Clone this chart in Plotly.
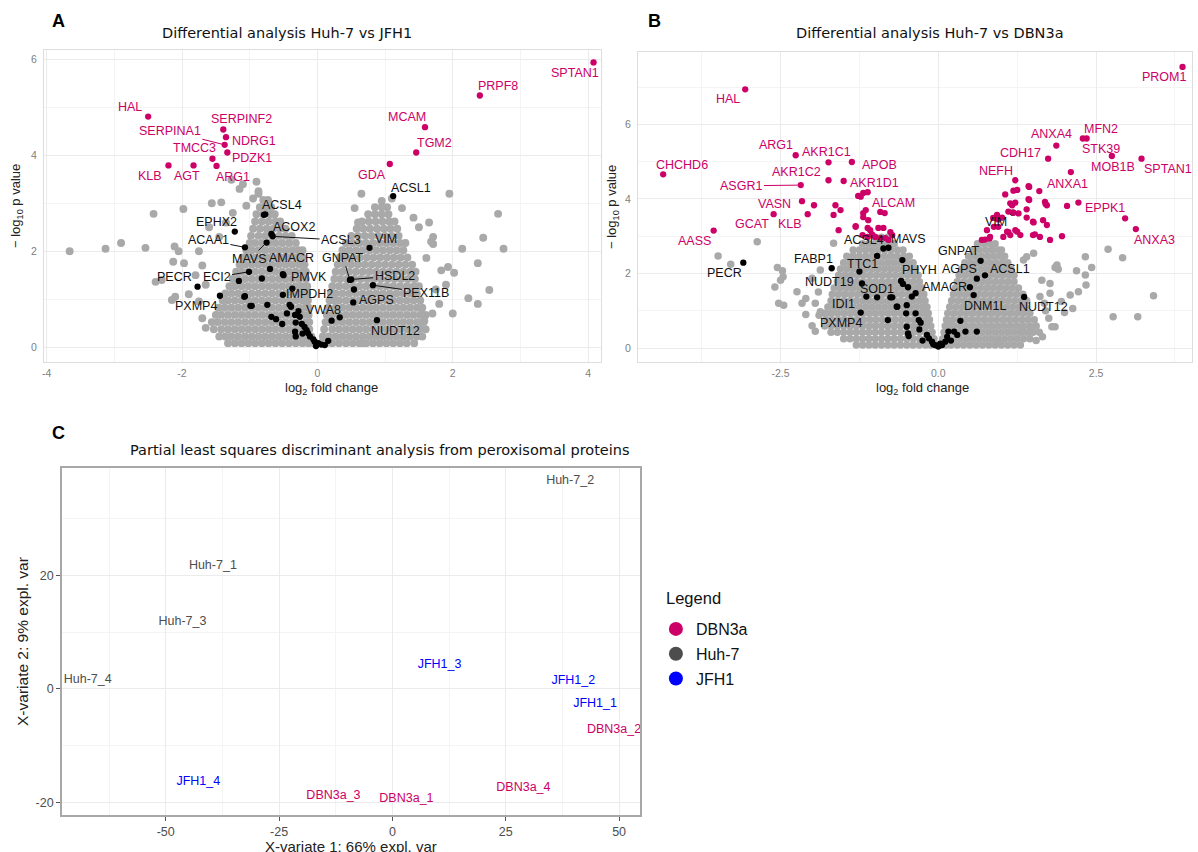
import plotly.graph_objects as go

W, H = 1198, 852
FONT = "Liberation Sans, Arial, Helvetica, sans-serif"
TFONT = "DejaVu Sans, Liberation Sans, Arial, sans-serif"
PINK = "#CC0066"
GRAY = "#A9A9A9"
BLACK = "#000000"
C_COLORS = {"DBN3a": "#CC0066", "Huh-7": "#4D4D4D", "JFH1": "#0000FF"}

# ================= Panel A : Huh-7 vs JFH1 =================
a_pink_genes = ["HAL", "SERPINF2", "NDRG1", "SERPINA1", "PDZK1", "TMCC3", "ARG1", "AGT", "KLB",
                "SPTAN1", "PRPF8", "MCAM", "TGM2", "GDA"]
a_pink_x = [-2.50, -1.39, -1.35, -1.37, -1.33, -1.55, -1.49, -1.83, -2.20, 4.08, 2.40, 1.59, 1.46, 1.07]
a_pink_y = [4.81, 4.54, 4.38, 4.22, 4.06, 3.93, 3.78, 3.79, 3.79, 5.94, 5.25, 4.59, 4.06, 3.82]

a_black_genes = ["ACSL4", "EPHX2", "ACOX2", "ACSL3", "MAVS", "ACAA1", "AMACR", "ECI2", "PECR", "PXMP4",
                 "PMVK", "IMPDH2", "VWA8", "ACSL1", "VIM", "GNPAT", "HSDL2", "PEX11B", "AGPS", "NUDT12"]
a_black_x = [-0.79, -1.22, -0.68, -0.66, -0.75, -1.07, -0.70, -1.01, -1.77, -1.44,
             -0.51, -0.37, 0.21, 1.12, 0.77, 0.48, 0.50, 0.82, 0.53, 0.88]
a_black_y = [2.76, 2.41, 2.36, 2.31, 2.18, 2.08, 1.63, 1.57, 1.26, 1.07,
             1.52, 1.22, 0.55, 3.15, 2.07, 1.40, 1.41, 1.29, 0.93, 0.56]

a_black_other_x = [-0.77, -1.16, -0.82, -1.07, -0.97, -0.74, -0.51, -0.50, -0.68, -0.61, -0.52, -0.41, -0.39,
                   -0.33, -0.32, -0.26, -0.23, -0.19, -0.16, -0.14, -0.11, -0.06, -0.04, 0.01, -0.33, -0.32,
                   -0.99, -1.08, 0.33, 0.54, 0.11, 0.16, 0.06, -0.02, -0.28, -0.45, -0.22]
a_black_other_y = [2.77, 1.38, 1.43, 1.06, 0.86, 0.88, 1.09, 1.50, 0.63, 0.58, 0.48, 0.88, 0.84,
                   0.67, 0.51, 0.63, 0.48, 0.42, 0.35, 0.29, 0.22, 0.16, 0.11, 0.08, 0.32, 0.22,
                   0.86, 1.05, 0.62, 1.20, 0.04, 0.13, 0.05, 0.02, 0.75, 0.70, 0.28]

# dense gray cloud, read row by row: (-log10 p, [log2 FC values])
a_gray_rows = [
    (0.08, [-1.32, -1.22, -1.12, -1.02, -0.92, -0.82, -0.72, -0.62, -0.52, -0.42, -0.32, -0.22, -0.13, -0.05,
            0.05, 0.13, 0.22, 0.32, 0.42, 0.52, 0.62, 0.72, 0.82, 0.92, 1.02, 1.12, 1.22, 1.32, 1.43]),
    (0.22, [-1.45, -1.36, -1.27, -1.17, -1.07, -0.97, -0.87, -0.77, -0.67, -0.57, -0.47, -0.37, -0.27, -0.17, -0.09,
            0.08, 0.17, 0.27, 0.37, 0.47, 0.57, 0.67, 0.77, 0.87, 0.97, 1.07, 1.17, 1.27, 1.37, 1.47, 1.55]),
    (0.37, [-1.53, -1.42, -1.32, -1.22, -1.12, -1.02, -0.92, -0.82, -0.72, -0.62, -0.52, -0.42, -0.32, -0.22, -0.12,
            0.10, 0.22, 0.32, 0.42, 0.52, 0.62, 0.72, 0.82, 0.92, 1.02, 1.12, 1.22, 1.32, 1.42, 1.52, 1.60]),
    (0.52, [-1.56, -1.47, -1.37, -1.27, -1.17, -1.07, -0.97, -0.87, -0.77, -0.67, -0.57, -0.47, -0.37, -0.27, -0.17, -0.12,
            0.12, 0.17, 0.27, 0.37, 0.47, 0.57, 0.67, 0.77, 0.87, 0.97, 1.07, 1.17, 1.27, 1.37, 1.47, 1.57]),
    (0.67, [-1.50, -1.42, -1.32, -1.22, -1.12, -1.02, -0.92, -0.82, -0.72, -0.62, -0.52, -0.42, -0.32, -0.22, -0.13,
            0.14, 0.22, 0.32, 0.42, 0.52, 0.62, 0.72, 0.82, 0.92, 1.02, 1.12, 1.22, 1.32, 1.42, 1.52, 1.60]),
    (0.82, [-1.46, -1.37, -1.27, -1.17, -1.07, -0.97, -0.87, -0.77, -0.67, -0.57, -0.47, -0.37, -0.27, -0.18, -0.13,
            0.16, 0.27, 0.37, 0.47, 0.57, 0.67, 0.77, 0.87, 0.97, 1.07, 1.17, 1.27, 1.37, 1.47, 1.55]),
    (0.97, [-1.40, -1.32, -1.22, -1.12, -1.02, -0.92, -0.82, -0.72, -0.62, -0.52, -0.42, -0.32, -0.22, -0.14,
            0.18, 0.24, 0.32, 0.42, 0.52, 0.62, 0.72, 0.82, 0.92, 1.02, 1.12, 1.22, 1.32, 1.42, 1.52]),
    (1.12, [-1.36, -1.27, -1.17, -1.07, -0.97, -0.87, -0.77, -0.67, -0.57, -0.47, -0.37, -0.27, -0.18, -0.15,
            0.20, 0.27, 0.37, 0.47, 0.57, 0.67, 0.77, 0.87, 0.97, 1.07, 1.17, 1.27, 1.37, 1.47]),
    (1.27, [-1.30, -1.22, -1.12, -1.02, -0.92, -0.82, -0.72, -0.62, -0.52, -0.42, -0.32, -0.23, -0.15,
            0.22, 0.32, 0.42, 0.52, 0.62, 0.72, 0.82, 0.92, 1.02, 1.12, 1.22, 1.32, 1.42, 1.50]),
    (1.42, [-1.25, -1.17, -1.07, -0.97, -0.87, -0.77, -0.67, -0.57, -0.47, -0.37, -0.27, -0.17,
            0.25, 0.34, 0.44, 0.54, 0.64, 0.74, 0.84, 0.94, 1.04, 1.14, 1.24, 1.34, 1.44]),
    (1.57, [-1.20, -1.12, -1.02, -0.92, -0.82, -0.72, -0.62, -0.52, -0.42, -0.32, -0.22, -0.17,
            0.27, 0.37, 0.47, 0.57, 0.67, 0.77, 0.87, 0.97, 1.07, 1.17, 1.27, 1.37, 1.45]),
    (1.72, [-1.15, -1.07, -0.97, -0.87, -0.77, -0.67, -0.57, -0.47, -0.37, -0.27, -0.19,
            0.30, 0.40, 0.50, 0.60, 0.70, 0.80, 0.90, 1.00, 1.10, 1.20, 1.30, 1.40]),
    (1.87, [-1.10, -1.02, -0.92, -0.82, -0.72, -0.62, -0.52, -0.42, -0.32, -0.22,
            0.33, 0.43, 0.53, 0.63, 0.73, 0.83, 0.93, 1.03, 1.13, 1.23, 1.33]),
    (2.02, [-1.05, -0.97, -0.87, -0.77, -0.67, -0.57, -0.47, -0.37, -0.28, -0.22,
            0.37, 0.47, 0.57, 0.67, 0.77, 0.87, 0.97, 1.07, 1.17, 1.27]),
    (2.17, [-1.00, -0.92, -0.82, -0.72, -0.62, -0.52, -0.42, -0.32,
            0.42, 0.52, 0.62, 0.72, 0.82, 0.92, 1.02, 1.12, 1.22, 1.30]),
    (2.32, [-0.98, -0.87, -0.77, -0.67, -0.57, -0.47, -0.38,
            0.50, 0.60, 0.70, 0.80, 0.90, 1.00, 1.10, 1.20]),
    (2.47, [-0.95, -0.85, -0.75, -0.65, -0.55, -0.47,
            0.58, 0.68, 0.78, 0.88, 0.98, 1.08, 1.18]),
    (2.62, [-0.92, -0.82, -0.72, -0.62, -0.55,
            0.66, 0.76, 0.86, 0.96, 1.06, 1.14]),
    (2.77, [-0.90, -0.80, -0.70, -0.63, 0.75, 0.85, 0.95, 1.05]),
    (2.92, [-0.85, -0.76, -0.68, 0.85, 0.95, 1.03]),
    (3.07, [-0.80, -0.73]),
]
a_gray_sparse_x = [-3.66, -3.13, -2.90, -2.54, -2.42, -1.98, -2.11, -2.05, -2.13, -1.97, -2.39, -2.15, -2.10,
                   -1.56, -1.42, -1.15, -1.05, -0.95, -0.87, -1.27, -1.10, -0.90, -0.87, -1.75, -1.70, -1.80,
                   -1.65, -1.90, -1.75, -2.30, -1.60, -1.45, -1.35, -1.25, -1.70, -1.65,
                   1.95, 2.67, 2.45, 2.75, 2.14, 2.37, 2.54, 2.23, 2.37, 2.02, 1.71, 1.71, 1.68, 1.61, 1.83,
                   1.93, 0.95, 1.10, 1.25, 1.42, 0.55, 0.65, 0.60, 1.50, 1.55, 1.58, 0.65, 1.75, 1.80, 1.70,
                   1.65, 1.50, 1.90, 2.00]
a_gray_sparse_y = [2.00, 2.05, 2.17, 2.07, 2.78, 2.88, 2.10, 2.00, 1.78, 1.75, 1.36, 0.98, 1.05,
                   3.00, 3.02, 3.30, 2.95, 3.10, 3.25, 3.49, 3.40, 3.45, 3.20, 2.00, 1.70, 1.50,
                   1.30, 1.10, 0.95, 1.40, 2.50, 2.30, 2.60, 2.80, 0.60, 0.40,
                   3.20, 2.78, 2.28, 2.05, 2.05, 1.75, 1.19, 1.02, 0.90, 1.55, 2.15, 2.30, 2.20, 1.86, 1.60,
                   1.67, 3.05, 3.10, 2.90, 2.70, 2.90, 3.20, 2.60, 0.50, 0.67, 0.55, 0.08, 1.20, 0.90, 0.70,
                   2.60, 2.50, 1.30, 0.70]

# label positions (log2 FC, -log10 p) and labels drawn with a segment
a_label_pos = {
    "HAL": (-2.77, 5.01), "SERPINF2": (-1.12, 4.76), "SERPINA1": (-2.18, 4.51), "NDRG1": (-0.94, 4.30),
    "TMCC3": (-1.82, 4.15), "PDZK1": (-0.96, 3.95), "KLB": (-2.48, 3.57), "AGT": (-1.93, 3.57),
    "ARG1": (-1.24, 3.55), "SPTAN1": (3.81, 5.72), "PRPF8": (2.67, 5.45), "MCAM": (1.33, 4.80),
    "TGM2": (1.73, 4.26), "GDA": (0.80, 3.59), "ACSL1": (1.39, 3.32), "ACSL4": (-0.53, 2.96),
    "EPHX2": (-1.49, 2.61), "ACOX2": (-0.35, 2.51), "ACSL3": (0.35, 2.23), "ACAA1": (-1.61, 2.23),
    "VIM": (1.02, 2.25), "MAVS": (-1.00, 1.84), "AMACR": (-0.38, 1.86), "GNPAT": (0.38, 1.86),
    "HSDL2": (1.14, 1.48), "PECR": (-2.11, 1.46), "ECI2": (-1.49, 1.46), "PMVK": (-0.13, 1.46),
    "PEX11B": (1.61, 1.13), "IMPDH2": (-0.12, 1.11), "PXMP4": (-1.79, 0.86), "AGPS": (0.87, 0.98),
    "VWA8": (0.09, 0.77), "NUDT12": (1.15, 0.33),
}
a_segments = {"SERPINA1", "ACAA1", "ECI2", "MAVS", "ACSL3", "GNPAT", "HSDL2", "PEX11B"}

# ================= Panel B : Huh-7 vs DBN3a =================
b_pink_genes = ["HAL", "ARG1", "AKR1C1", "APOB", "AKR1C2", "AKR1D1", "ASGR1", "CHCHD6", "VASN", "GCAT",
                "KLB", "AASS", "ALCAM", "PROM1", "MFN2", "STK39", "ANXA4", "CDH17", "MOB1B", "SPTAN1",
                "NEFH", "ANXA1", "EPPK1", "ANXA3"]
b_pink_x = [-3.06, -2.26, -1.74, -1.37, -1.74, -1.50, -2.18, -4.36, -2.16, -2.61,
            -2.07, -3.56, -1.19, 3.87, 2.29, 2.35, 1.87, 1.74, 2.75, 3.22,
            1.22, 2.10, 2.22, 3.13]
b_pink_y = [6.94, 5.17, 4.98, 4.99, 4.50, 4.48, 4.37, 4.66, 3.94, 3.59,
            3.59, 3.15, 4.16, 7.54, 5.62, 5.62, 5.43, 5.08, 5.15, 5.08,
            4.50, 4.72, 3.90, 3.19]
b_pink_other_x = [-1.97, -1.63, -1.55, -1.66, -1.58, -1.31, -1.27, -1.23, -1.12, -1.15, -1.19, -1.19, -0.92,
                  -0.85, -1.11, -1.12, -1.08, -0.95, -0.87, -1.20, -1.12, -1.00, -0.92, -0.84, -0.79, -0.76,
                  -0.73, -1.31, -1.05,
                  1.25, 1.19, 1.43, 1.60, 1.06, 1.43, 1.69, 1.72, 1.22, 1.40, 1.27, 2.04, 1.50, 1.66, 0.87,
                  0.95, 0.93, 1.11, 1.19, 1.09, 1.14, 1.25, 1.30, 0.74, 0.82, 0.69, 1.50, 1.61, 1.77, 1.96,
                  2.96, 1.72, 1.40, 1.51, 1.11, 1.22, 1.03, 0.77, 0.81, 0.88, 0.95, 1.01, 1.17, 1.14, 1.44,
                  1.44, 1.70, 1.53]
b_pink_other_y = [3.83, 3.83, 3.70, 3.57, 3.16, 3.27, 4.08, 4.06, 4.18, 3.70, 3.62, 3.51, 3.65,
                  3.62, 3.43, 3.22, 3.16, 3.22, 3.22, 3.03, 2.98, 2.98, 2.95, 2.95, 2.90, 3.11,
                  3.03, 3.25, 3.05,
                  4.24, 4.22, 4.34, 4.21, 4.12, 3.99, 3.92, 3.83, 3.90, 3.72, 3.61, 3.81, 3.39, 3.43, 3.49,
                  3.25, 3.57, 3.66, 3.63, 3.12, 3.03, 3.12, 3.03, 2.91, 2.98, 2.90, 3.03, 2.98, 2.90, 3.00,
                  3.48, 3.30, 3.50, 3.37, 3.11, 3.16, 2.98, 3.16, 2.94, 3.25, 3.45, 3.50, 3.83, 3.88, 4.32,
                  3.97, 3.86, 3.05]

b_black_genes = ["ACSL4", "MAVS", "FABP1", "TTC1", "NUDT19", "SOD1", "IDI1", "PXMP4", "PHYH", "PECR",
                 "GNPAT", "AGPS", "ACSL1", "AMACR", "DNM1L", "NUDT12", "VIM"]
b_black_x = [-0.87, -0.79, -1.69, -0.97, -1.21, -0.97, -1.23, -0.80, -0.57, -3.09,
             0.67, 0.61, 0.74, 0.50, 0.56, 1.36, 1.18]
b_black_y = [2.67, 2.69, 2.14, 2.47, 1.73, 1.36, 0.95, 0.75, 2.36, 2.29,
             2.34, 1.86, 1.95, 1.63, 1.42, 1.37, 3.63]
b_black_other_x = [-1.25, -1.14, -0.76, -0.59, -0.56, -0.48, -0.36, -0.42, -0.65, -0.50, -0.36, -0.51, -0.31,
                   -0.28, -0.50, -0.48, -0.47, -0.18, -0.15, -0.10, -0.05, 0.00, 0.06, 0.11, 0.14, 0.16,
                   0.25, 0.30, 0.43, 0.61, 0.35, -0.73, -0.66, -0.25, -0.30, 0.20, -0.08, 0.03]
b_black_other_y = [2.05, 1.38, 1.36, 1.80, 1.72, 1.63, 1.47, 1.38, 1.11, 1.15, 0.93, 0.93, 0.75,
                   0.68, 0.57, 0.39, 0.32, 0.35, 0.26, 0.17, 0.08, 0.04, 0.08, 0.17, 0.30, 0.44,
                   0.44, 0.35, 0.44, 0.44, 0.73, 1.36, 1.11, 0.20, 0.50, 0.20, 0.10, 0.12]

b_gray_rows = [
    (0.08, [-1.30, -1.20, -1.10, -1.00, -0.90, -0.80, -0.70, -0.60, -0.50, -0.40, -0.30, -0.20, -0.12, -0.04,
            0.04, 0.12, 0.20, 0.30, 0.40, 0.50, 0.60, 0.70, 0.80, 0.90, 1.00, 1.10, 1.20, 1.30]),
    (0.25, [-1.50, -1.40, -1.30, -1.20, -1.10, -1.00, -0.90, -0.80, -0.70, -0.60, -0.50, -0.40, -0.30, -0.20, -0.12,
            -0.07, 0.07, 0.15, 0.25, 0.35, 0.45, 0.55, 0.65, 0.75, 0.85, 0.95, 1.05, 1.15, 1.25, 1.35, 1.45]),
    (0.42, [-1.70, -1.60, -1.50, -1.40, -1.30, -1.20, -1.10, -1.00, -0.90, -0.80, -0.70, -0.60, -0.50, -0.40, -0.30,
            -0.20, -0.10, 0.09, 0.20, 0.30, 0.40, 0.50, 0.60, 0.70, 0.80, 0.90, 1.00, 1.10, 1.20, 1.30, 1.40,
            1.50, 1.60]),
    (0.59, [-1.80, -1.70, -1.60, -1.50, -1.40, -1.30, -1.20, -1.10, -1.00, -0.90, -0.80, -0.70, -0.60, -0.50, -0.40,
            -0.30, -0.20, -0.12, 0.11, 0.17, 0.25, 0.35, 0.45, 0.55, 0.65, 0.75, 0.85, 0.95, 1.05, 1.15, 1.25,
            1.35, 1.45, 1.55]),
    (0.76, [-1.78, -1.68, -1.58, -1.48, -1.38, -1.28, -1.18, -1.08, -0.98, -0.88, -0.78, -0.68, -0.58, -0.48, -0.38,
            -0.28, -0.18, -0.14, 0.13, 0.22, 0.32, 0.42, 0.52, 0.62, 0.72, 0.82, 0.92, 1.02, 1.12, 1.22, 1.32,
            1.42, 1.52]),
    (0.93, [-1.80, -1.70, -1.60, -1.50, -1.40, -1.30, -1.20, -1.10, -1.00, -0.90, -0.80, -0.70, -0.60, -0.50, -0.40,
            -0.30, -0.22, -0.16, 0.15, 0.25, 0.35, 0.45, 0.55, 0.65, 0.75, 0.85, 0.95, 1.05, 1.15, 1.25, 1.35,
            1.45]),
    (1.10, [-1.75, -1.65, -1.55, -1.45, -1.35, -1.25, -1.15, -1.05, -0.95, -0.85, -0.75, -0.65, -0.55, -0.45, -0.35,
            -0.25, -0.18, 0.18, 0.28, 0.38, 0.48, 0.58, 0.68, 0.78, 0.88, 0.98, 1.08, 1.18, 1.28, 1.38]),
    (1.27, [-1.70, -1.60, -1.50, -1.40, -1.30, -1.20, -1.10, -1.00, -0.90, -0.80, -0.70, -0.60, -0.50, -0.40, -0.30,
            -0.21, 0.21, 0.31, 0.41, 0.51, 0.61, 0.71, 0.81, 0.91, 1.01, 1.11, 1.21, 1.31, 1.40]),
    (1.44, [-1.68, -1.58, -1.48, -1.38, -1.28, -1.18, -1.08, -0.98, -0.88, -0.78, -0.68, -0.58, -0.48, -0.38, -0.28,
            -0.23, 0.24, 0.34, 0.44, 0.54, 0.64, 0.74, 0.84, 0.94, 1.04, 1.14, 1.24, 1.34]),
    (1.61, [-1.65, -1.55, -1.45, -1.35, -1.25, -1.15, -1.05, -0.95, -0.85, -0.75, -0.65, -0.55, -0.45, -0.35, -0.26,
            0.27, 0.37, 0.47, 0.57, 0.67, 0.77, 0.87, 0.97, 1.07, 1.17, 1.27]),
    (1.78, [-1.60, -1.50, -1.40, -1.30, -1.20, -1.10, -1.00, -0.90, -0.80, -0.70, -0.60, -0.50, -0.40, -0.30,
            0.30, 0.40, 0.50, 0.60, 0.70, 0.80, 0.90, 1.00, 1.10, 1.20]),
    (1.95, [-1.58, -1.48, -1.38, -1.28, -1.18, -1.08, -0.98, -0.88, -0.78, -0.68, -0.58, -0.48, -0.38, -0.32,
            0.33, 0.43, 0.53, 0.63, 0.73, 0.83, 0.93, 1.03, 1.13, 1.20]),
    (2.12, [-1.55, -1.45, -1.35, -1.25, -1.15, -1.05, -0.95, -0.85, -0.75, -0.65, -0.55, -0.45, -0.36,
            0.37, 0.47, 0.57, 0.67, 0.77, 0.87, 0.97, 1.07, 1.15]),
    (2.29, [-1.50, -1.40, -1.30, -1.20, -1.10, -1.00, -0.90, -0.80, -0.70, -0.60, -0.50, -0.40,
            0.42, 0.52, 0.62, 0.72, 0.82, 0.92, 1.02, 1.10]),
    (2.46, [-1.45, -1.35, -1.25, -1.15, -1.05, -0.95, -0.85, -0.75, -0.65, -0.55, -0.46,
            0.48, 0.58, 0.68, 0.78, 0.88, 0.98, 1.05]),
    (2.63, [-1.35, -1.25, -1.15, -1.05, -0.95, -0.85, -0.75, -0.65, -0.56,
            0.55, 0.65, 0.75, 0.85, 0.95, 1.00]),
    (2.80, [-1.20, -1.10, -1.00, -0.90, -0.80, -0.70, 0.62, 0.72, 0.82, 0.90]),
    (2.97, [-1.00, -0.90, -0.80]),
]
b_gray_sparse_x = [-2.87, -3.49, -3.29, -2.55, -2.47, -2.46, -2.50, -2.59, -2.24, -2.10, -2.16, -2.53, -2.45,
                   -1.87, -2.00, -1.66, -1.89, -1.76, -1.87, -2.00, -2.10, -1.95, -1.90, -1.95,
                   2.69, 2.92, 3.41, 2.77, 3.16, 2.33, 2.43, 2.33, 2.34, 2.19, 2.22, 2.09, 2.13, 1.88, 1.85,
                   1.90, 1.77, 1.64, 1.77, 1.61, 1.80, 1.85, 1.46, 1.32, 0.95, 1.51, 1.40, 1.35, 1.70, 1.75,
                   1.68, 1.95, 2.00, 1.65, 1.55]
b_gray_sparse_y = [2.85, 2.47, 2.25, 2.16, 2.07, 1.91, 1.82, 1.64, 1.51, 1.33, 1.20, 1.20, 1.15,
                   2.09, 1.87, 2.81, 0.88, 0.75, 0.97, 0.60, 0.90, 1.20, 1.50, 0.45,
                   2.65, 2.42, 1.40, 0.84, 0.84, 2.45, 2.16, 1.96, 1.69, 2.07, 1.51, 1.42, 1.06, 2.23, 2.16,
                   2.11, 1.73, 1.82, 1.47, 1.38, 0.57, 0.57, 0.44, 0.44, 0.14, 2.54, 2.45, 2.36, 1.00, 0.80,
                   1.20, 1.25, 0.95, 0.30, 0.20]

b_label_pos = {
    "HAL": (-3.34, 6.67), "ARG1": (-2.57, 5.44), "AKR1C1": (-1.77, 5.25), "APOB": (-0.94, 4.91),
    "CHCHD6": (-4.06, 4.91), "AKR1C2": (-2.24, 4.73), "AKR1D1": (-1.01, 4.42), "ASGR1": (-3.12, 4.35),
    "VASN": (-2.59, 3.86), "ALCAM": (-0.71, 3.90), "GCAT": (-2.96, 3.32), "KLB": (-2.35, 3.32),
    "AASS": (-3.86, 2.87), "ACSL4": (-1.18, 2.91), "MAVS": (-0.47, 2.92), "FABP1": (-1.98, 2.38),
    "PECR": (-3.39, 2.00), "TTC1": (-1.20, 2.25), "PHYH": (-0.30, 2.09), "NUDT19": (-1.72, 1.78),
    "SOD1": (-0.97, 1.58), "IDI1": (-1.51, 1.18), "PXMP4": (-1.55, 0.66), "GNPAT": (0.32, 2.60),
    "AGPS": (0.33, 2.11), "ACSL1": (1.14, 2.11), "AMACR": (0.09, 1.63), "DNM1L": (0.74, 1.13),
    "NUDT12": (1.66, 1.09), "VIM": (0.92, 3.37), "ANXA3": (3.42, 2.91), "EPPK1": (2.64, 3.75),
    "PROM1": (3.58, 7.26), "ANXA4": (1.79, 5.73), "MFN2": (2.58, 5.87), "STK39": (2.58, 5.35),
    "CDH17": (1.31, 5.22), "MOB1B": (2.77, 4.86), "SPTAN1": (3.64, 4.79), "NEFH": (0.92, 4.75),
    "ANXA1": (2.04, 4.39),
}
b_segments = {"ASGR1"}

# ================= Panel C : PLS-DA =================
c_samples = ["Huh-7_1", "Huh-7_2", "Huh-7_3", "Huh-7_4", "JFH1_1", "JFH1_2", "JFH1_3", "JFH1_4",
             "DBN3a_1", "DBN3a_2", "DBN3a_3", "DBN3a_4"]
c_group = ["Huh-7"] * 4 + ["JFH1"] * 4 + ["DBN3a"] * 4
c_variate1 = [-39.6, 39.2, -46.3, -67.2, 44.7, 39.9, 10.4, -42.8, 3.1, 48.9, -13.0, 28.9]
c_variate2 = [21.7, 36.7, 11.8, 1.6, -2.6, 1.4, 4.2, -16.4, -19.4, -7.2, -18.9, -17.4]
c_legend_order = ["DBN3a", "Huh-7", "JFH1"]


def flatten(rows):
    xs, ys = [], []
    for yv, xlist in rows:
        for xv in xlist:
            xs.append(xv)
            ys.append(yv)
    return xs, ys


def pp(px, py):
    return px / W, 1 - py / H


fig = go.Figure()


def volcano(xa, ya, rows, sx, sy, bx, by, box, boy, pkx, pky, gsize, pox=None, poy=None):
    gx, gy = flatten(rows)
    fig.add_trace(go.Scatter(x=gx + sx, y=gy + sy, mode="markers", xaxis=xa, yaxis=ya,
                             marker=dict(color=GRAY, size=gsize), showlegend=False, hoverinfo="skip"))
    fig.add_trace(go.Scatter(x=bx + box, y=by + boy, mode="markers", xaxis=xa, yaxis=ya,
                             marker=dict(color=BLACK, size=6.3), showlegend=False, hoverinfo="skip"))
    px_ = list(pkx) + (list(pox) if pox else [])
    py_ = list(pky) + (list(poy) if poy else [])
    fig.add_trace(go.Scatter(x=px_, y=py_, mode="markers", xaxis=xa, yaxis=ya,
                             marker=dict(color=PINK, size=6.3), showlegend=False, hoverinfo="skip"))


volcano("x", "y", a_gray_rows, a_gray_sparse_x, a_gray_sparse_y, a_black_x, a_black_y,
        a_black_other_x, a_black_other_y, a_pink_x, a_pink_y, 7.9)
volcano("x2", "y2", b_gray_rows, b_gray_sparse_x, b_gray_sparse_y, b_black_x, b_black_y,
        b_black_other_x, b_black_other_y, b_pink_x, b_pink_y, 7.5, b_pink_other_x, b_pink_other_y)

# Panel C text marks
for g in c_legend_order:
    idx = [i for i, gg in enumerate(c_group) if gg == g]
    fig.add_trace(go.Scatter(x=[c_variate1[i] for i in idx], y=[c_variate2[i] for i in idx],
                             text=[c_samples[i] for i in idx], mode="text", xaxis="x3", yaxis="y3",
                             textfont=dict(family=FONT, size=12.5, color=C_COLORS[g]),
                             showlegend=False, hoverinfo="skip"))
for g in c_legend_order:
    fig.add_trace(go.Scatter(x=[None], y=[None], mode="markers", name=g, xaxis="x3", yaxis="y3",
                             marker=dict(color=C_COLORS[g], size=14), legendgroup=g, showlegend=True))

ann = []


def gene_labels(genes, xs, ys, pos, segs, color, xr, yr):
    for gname, xv, yv in zip(genes, xs, ys):
        lx, ly = pos[gname]
        if gname in segs:
            ann.append(dict(x=xv, y=yv, ax=lx, ay=ly, xref=xr, yref=yr, axref=xr, ayref=yr,
                            text=gname, showarrow=True, arrowhead=0, arrowwidth=1, arrowcolor=color,
                            standoff=3, font=dict(family=FONT, size=12.5, color=color)))
        else:
            ann.append(dict(x=lx, y=ly, xref=xr, yref=yr, text=gname, showarrow=False,
                            xanchor="center", yanchor="middle",
                            font=dict(family=FONT, size=12.5, color=color)))


gene_labels(a_pink_genes, a_pink_x, a_pink_y, a_label_pos, a_segments, PINK, "x", "y")
gene_labels(a_black_genes, a_black_x, a_black_y, a_label_pos, a_segments, "#111111", "x", "y")
gene_labels(b_pink_genes, b_pink_x, b_pink_y, b_label_pos, b_segments, PINK, "x2", "y2")
gene_labels(b_black_genes, b_black_x, b_black_y, b_label_pos, b_segments, "#111111", "x2", "y2")


def paper_text(px, py, text, size, color="#000000", angle=0, bold=False, anchor="center", family=FONT):
    x, y = pp(px, py)
    ann.append(dict(x=x, y=y, xref="paper", yref="paper", text=("<b>%s</b>" % text) if bold else text,
                    showarrow=False, textangle=angle, xanchor=anchor, yanchor="middle",
                    font=dict(family=family, size=size, color=color)))


paper_text(57, 21, "A", 18, bold=True)
paper_text(654, 21, "B", 18, bold=True)
paper_text(57, 433, "C", 18, bold=True)
paper_text(285, 33, "Differential analysis Huh-7 vs JFH1", 14.5, "#111111", family=TFONT)
paper_text(930, 33, "Differential analysis Huh-7 vs DBN3a", 14.5, "#111111", family=TFONT)
paper_text(379, 450, "Partial least squares discriminant analysis from peroxisomal proteins", 14.5,
           "#111111", family=TFONT)
paper_text(330, 388, "log<sub>2</sub> fold change", 13, "#222222")
paper_text(922, 388, "log<sub>2</sub> fold change", 13, "#222222")
paper_text(14, 206, "\u2212 log<sub>10</sub> p value", 13, "#222222", angle=-90)
paper_text(611, 207, "\u2212 log<sub>10</sub> p value", 13, "#222222", angle=-90)
paper_text(350, 846, "X-variate 1: 66% expl. var", 15, "#222222")
paper_text(20, 641, "X-variate 2: 9% expl. var", 15.5, "#222222", angle=-90)
paper_text(663, 598, "Legend", 16.5, "#111111", anchor="left")

light_axis = dict(showgrid=True, gridcolor="#EBEBEB", gridwidth=1, zeroline=False, showline=True,
                  mirror=True, linecolor="#DDDDDD", linewidth=1, ticks="",
                  tickfont=dict(family=FONT, size=10.5, color="#808080"), ticklabelstandoff=1)

xa = dict(light_axis, domain=[42 / W, 600 / W], range=[-4.04, 4.19], anchor="y",
          tickvals=[-4, -2, 0, 2, 4], ticktext=["-4", "-2", "0", "2", "4"],
          minor=dict(showgrid=True, gridcolor="#F4F4F4", dtick=1, tick0=0))
ya = dict(light_axis, domain=[1 - 362 / H, 1 - 50 / H], range=[-0.313, 6.2], anchor="x",
          tickvals=[0, 2, 4, 6], ticktext=["0", "2", "4", "6"], ticklabelstandoff=4,
          minor=dict(showgrid=True, gridcolor="#F4F4F4", dtick=1, tick0=0))
xb = dict(light_axis, domain=[637 / W, 1192 / W], range=[-4.76, 4.02], anchor="y2",
          tickvals=[-2.5, 0, 2.5], ticktext=["-2.5", "0.0", "2.5"],
          minor=dict(showgrid=True, gridcolor="#F4F4F4", dtick=1.25, tick0=0))
yb = dict(light_axis, domain=[1 - 362 / H, 1 - 52 / H], range=[-0.375, 7.94], anchor="x2",
          tickvals=[0, 2, 4, 6], ticktext=["0", "2", "4", "6"], ticklabelstandoff=4,
          minor=dict(showgrid=True, gridcolor="#F4F4F4", dtick=1, tick0=0))
c_axis = dict(showgrid=True, gridcolor="#EBEBEB", gridwidth=1, zeroline=False, showline=True,
              mirror=True, linecolor="#A8A8A8", linewidth=1.5, ticks="outside", ticklen=4,
              tickcolor="#555555", tickwidth=1, tickfont=dict(family=FONT, size=12.5, color="#4D4D4D"))
xc = dict(c_axis, domain=[60 / W, 639 / W], range=[-72.9, 54.6], anchor="y3",
          tickvals=[-50, -25, 0, 25, 50], ticktext=["-50", "-25", "0", "25", "50"],
          minor=dict(showgrid=True, gridcolor="#F4F4F4", dtick=12.5, tick0=0))
yc = dict(c_axis, domain=[1 - 815 / H, 1 - 468 / H], range=[-22.2, 38.9], anchor="x3",
          tickvals=[-20, 0, 20], ticktext=["-20", "0", "20"],
          minor=dict(showgrid=True, gridcolor="#F4F4F4", dtick=10, tick0=0))

lx, ly = pp(655, 612)
fig.update_layout(
    width=W, height=H, margin=dict(l=0, r=0, t=0, b=0), autosize=False,
    paper_bgcolor="white", plot_bgcolor="white",
    xaxis=xa, yaxis=ya, xaxis2=xb, yaxis2=yb, xaxis3=xc, yaxis3=yc,
    annotations=ann, hovermode=False,
    legend=dict(x=lx, y=ly, xanchor="left", yanchor="top", traceorder="grouped", tracegroupgap=1,
                font=dict(family=FONT, size=16, color="#111111"), bgcolor="rgba(0,0,0,0)"),
    font=dict(family=FONT),
)

fig.write_html("out.html", config={"displayModeBar": False},
               post_script="document.body.style.margin='0';document.body.style.overflow='hidden';")
